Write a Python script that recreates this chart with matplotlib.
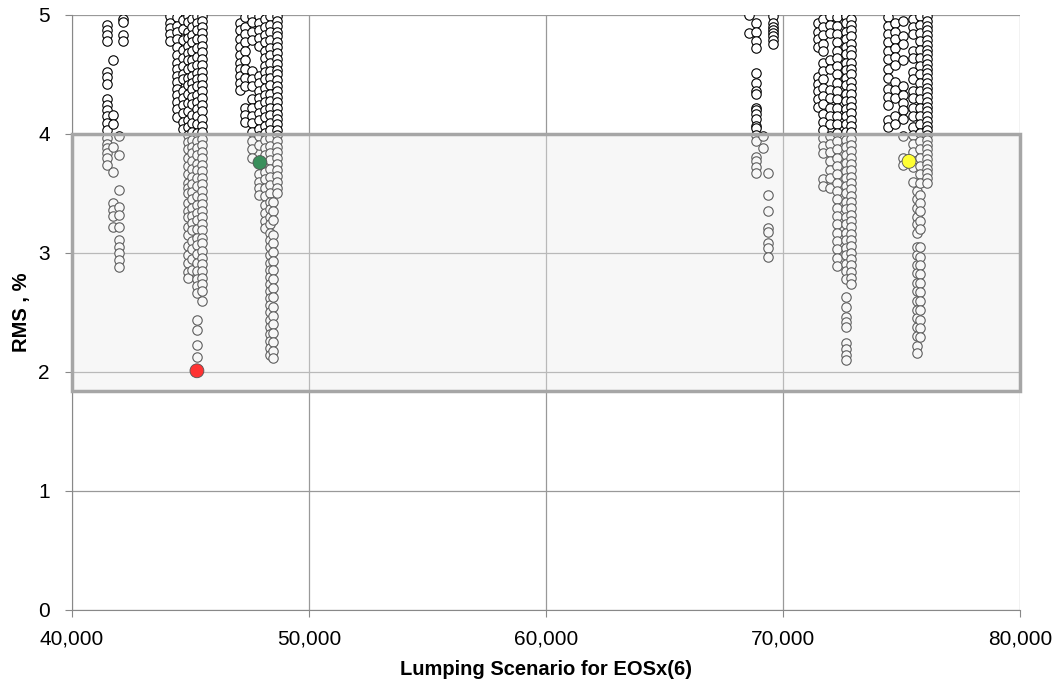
import matplotlib.pyplot as plt
import matplotlib.patches as patches
from matplotlib.ticker import FuncFormatter

plt.rcParams['font.family'] = ['Liberation Sans', 'DejaVu Sans']

# scenario clusters: column x positions and the RMS values stacked at each
clus_a_x = [41480, 41730, 41980, 42150]
clus_a_y = [
    [4.92, 4.87, 4.83, 4.78, 4.52, 4.48, 4.42, 4.29, 4.24, 4.20, 4.15, 4.09, 4.03, 3.97, 3.92, 3.88, 3.84, 3.80, 3.74],
    [4.62, 4.16, 4.08, 3.89, 3.68, 3.42, 3.36, 3.31, 3.22],
    [3.98, 3.82, 3.53, 3.39, 3.32, 3.22, 3.11, 3.05, 3.00, 2.94, 2.88],
    [4.97, 4.94, 4.83, 4.78],
]

clus_b_x = [44150, 44450, 44700, 44900, 45050, 45270, 45500]
clus_b_y = [
    [4.99, 4.93, 4.89, 4.84, 4.78],
    [4.98, 4.91, 4.86, 4.80, 4.73, 4.66, 4.60, 4.55, 4.49, 4.44, 4.38, 4.33, 4.27, 4.21, 4.14],
    [4.96, 4.88, 4.79, 4.71, 4.64, 4.57, 4.50, 4.46, 4.36, 4.30, 4.24, 4.18, 4.10, 4.04],
    [4.99, 4.94, 4.86, 4.81, 4.74, 4.68, 4.62, 4.55, 4.47, 4.41, 4.34, 4.26, 4.19, 4.12, 4.06, 3.99,
     3.93, 3.87, 3.80, 3.73, 3.66, 3.59, 3.55, 3.50, 3.42, 3.35, 3.30, 3.22, 3.15, 3.06, 2.98, 2.92, 2.84, 2.79],
    [4.97, 4.90, 4.83, 4.77, 4.70, 4.62, 4.56, 4.49, 4.43, 4.38, 4.31, 4.25, 4.16, 4.09, 4.02, 3.95,
     3.89, 3.84, 3.77, 3.71, 3.64, 3.58, 3.51, 3.45, 3.38, 3.31, 3.25, 3.19, 3.10, 3.03, 2.95, 2.86],
    [4.99, 4.93, 4.87, 4.80, 4.72, 4.65, 4.58, 4.51, 4.46, 4.40, 4.33, 4.27, 4.21, 4.15, 4.08, 4.01,
     3.94, 3.88, 3.82, 3.75, 3.70, 3.63, 3.56, 3.48, 3.40, 3.34, 3.28, 3.20, 3.13, 3.07, 2.99, 2.92,
     2.85, 2.78, 2.72, 2.66, 2.44, 2.35, 2.23, 2.13],
    [4.99, 4.95, 4.90, 4.85, 4.80, 4.74, 4.69, 4.63, 4.58, 4.52, 4.47, 4.41, 4.36, 4.30, 4.24, 4.19,
     4.13, 4.07, 4.02, 3.96, 3.91, 3.85, 3.80, 3.74, 3.69, 3.63, 3.58, 3.52, 3.46, 3.41, 3.35, 3.30,
     3.24, 3.19, 3.13, 3.08, 3.02, 2.96, 2.91, 2.85, 2.79, 2.74, 2.68, 2.60],
]

clus_c_x = [47090, 47300, 47600, 47900, 48150, 48350, 48480, 48650]
clus_c_y = [
    [4.93, 4.87, 4.80, 4.73, 4.66, 4.60, 4.55, 4.49, 4.43, 4.37],
    [4.98, 4.90, 4.84, 4.77, 4.70, 4.62, 4.55, 4.47, 4.40, 4.22, 4.16, 4.10],
    [4.99, 4.94, 4.86, 4.79, 4.53, 4.46, 4.40, 4.29, 4.22, 4.15, 4.09, 4.02, 3.94, 3.87, 3.80],
    [4.99, 4.93, 4.87, 4.81, 4.74, 4.49, 4.43, 4.36, 4.30, 4.24, 4.18, 4.12, 4.04, 3.98, 3.91, 3.66, 3.60, 3.55, 3.49],
    [4.97, 4.90, 4.83, 4.77, 4.70, 4.64, 4.57, 4.52, 4.46, 4.39, 4.33, 4.27, 4.20, 4.14, 4.07, 4.01,
     3.95, 3.88, 3.82, 3.75, 3.68, 3.62, 3.55, 3.48, 3.40, 3.34, 3.27, 3.21],
    [4.99, 4.92, 4.86, 4.79, 4.72, 4.66, 4.60, 4.53, 4.47, 4.41, 4.34, 4.28, 4.22, 4.16, 4.09, 4.03,
     3.97, 3.90, 3.84, 3.78, 3.71, 3.64, 3.57, 3.50, 3.43, 3.37, 3.30, 3.24, 3.17, 3.11, 3.05, 2.98,
     2.92, 2.86, 2.80, 2.74, 2.68, 2.62, 2.56, 2.50, 2.44, 2.38, 2.32, 2.26, 2.20, 2.14],
    [3.43, 3.35, 3.28, 3.15, 3.08, 3.01, 2.93, 2.86, 2.78, 2.71, 2.63, 2.55, 2.47, 2.40, 2.33, 2.25, 2.18, 2.12],
    [4.99, 4.95, 4.91, 4.86, 4.82, 4.77, 4.73, 4.68, 4.63, 4.59, 4.54, 4.50, 4.45, 4.40, 4.36, 4.31,
     4.27, 4.22, 4.17, 4.13, 4.08, 4.03, 3.99, 3.94, 3.89, 3.85, 3.80, 3.75, 3.70, 3.65, 3.60, 3.55, 3.50],
]

clus_d_x = [68560, 68860, 69160, 69370, 69580]
clus_d_y = [
    [5.00, 4.85],
    [4.93, 4.86, 4.78, 4.72, 4.51, 4.43, 4.36, 4.34, 4.22, 4.20, 4.17, 4.13, 4.07, 4.05, 3.99, 3.94, 3.81, 3.77, 3.72, 3.67],
    [3.98, 3.88],
    [3.67, 3.49, 3.35, 3.21, 3.18, 3.08, 3.04, 2.97],
    [4.99, 4.93, 4.90, 4.87, 4.85, 4.82, 4.79, 4.76],
]

clus_e_x = [71480, 71700, 72000, 72300, 72650, 72880]
clus_e_y = [
    [4.93, 4.86, 4.80, 4.73, 4.48, 4.42, 4.36, 4.29, 4.23],
    [4.97, 4.90, 4.83, 4.76, 4.70, 4.60, 4.53, 4.46, 4.39, 4.32, 4.25, 4.17, 4.10, 4.03, 3.97, 3.90, 3.84, 3.62, 3.56],
    [4.99, 4.92, 4.85, 4.62, 4.55, 4.37, 4.30, 4.22, 4.15, 4.08, 3.98, 3.92, 3.85, 3.77, 3.70, 3.63, 3.55],
    [4.98, 4.91, 4.84, 4.77, 4.70, 4.64, 4.57, 4.50, 4.43, 4.36, 4.29, 4.22, 4.15, 4.08, 4.01, 3.94,
     3.87, 3.80, 3.73, 3.66, 3.59, 3.52, 3.45, 3.38, 3.31, 3.24, 3.17, 3.10, 3.03, 2.96, 2.89],
    [4.99, 4.93, 4.86, 4.80, 4.73, 4.67, 4.60, 4.54, 4.47, 4.41, 4.34, 4.28, 4.21, 4.15, 4.08, 4.02,
     3.95, 3.89, 3.82, 3.76, 3.69, 3.63, 3.56, 3.50, 3.43, 3.37, 3.30, 3.24, 3.17, 3.11, 3.04, 2.98,
     2.91, 2.85, 2.78, 2.63, 2.55, 2.46, 2.42, 2.38, 2.24, 2.19, 2.14, 2.10],
    [4.97, 4.92, 4.87, 4.82, 4.76, 4.71, 4.66, 4.60, 4.55, 4.50, 4.44, 4.39, 4.34, 4.28, 4.23, 4.18,
     4.12, 4.07, 4.02, 3.96, 3.91, 3.86, 3.80, 3.75, 3.70, 3.64, 3.59, 3.54, 3.48, 3.43, 3.38, 3.32,
     3.27, 3.22, 3.16, 3.11, 3.06, 3.00, 2.95, 2.90, 2.84, 2.79, 2.74],
]

clus_f_x = [74430, 74730, 75060, 75490, 75650, 75800, 76080]
clus_f_y = [
    [4.98, 4.91, 4.84, 4.77, 4.70, 4.63, 4.55, 4.47, 4.38, 4.31, 4.24, 4.12, 4.06],
    [4.93, 4.86, 4.80, 4.72, 4.65, 4.58, 4.44, 4.37, 4.30, 4.15, 4.08],
    [4.95, 4.82, 4.76, 4.62, 4.40, 4.33, 4.26, 4.20, 4.13, 3.98, 3.80, 3.74],
    [4.97, 4.90, 4.84, 4.70, 4.64, 4.52, 4.46, 4.36, 4.30, 4.22, 4.15, 4.06, 3.99, 3.92, 3.85, 3.72, 3.60],
    [3.52, 3.45, 3.38, 3.30, 3.24, 3.17, 3.05, 2.98, 2.90, 2.83, 2.75, 2.68, 2.60, 2.52, 2.45, 2.38, 2.30, 2.22, 2.16],
    [4.99, 4.92, 4.85, 4.78, 4.71, 4.64, 4.57, 4.50, 4.43, 4.36, 4.29, 4.22, 4.15, 4.08, 4.01, 3.94,
     3.87, 3.80, 3.73, 3.66, 3.59, 3.49, 3.42, 3.35, 3.27, 3.20, 3.05, 2.97, 2.90, 2.82, 2.75, 2.67,
     2.60, 2.52, 2.44, 2.37, 2.29],
    [4.99, 4.95, 4.91, 4.87, 4.83, 4.79, 4.75, 4.71, 4.67, 4.63, 4.59, 4.55, 4.51, 4.47, 4.43, 4.39,
     4.35, 4.31, 4.27, 4.23, 4.19, 4.15, 4.11, 4.07, 4.03, 3.99, 3.95, 3.91, 3.87, 3.83, 3.79, 3.75,
     3.71, 3.67, 3.63, 3.59],
]

# highlighted scenarios
best_x = [45270, 47930, 75320]
best_y = [2.01, 3.76, 3.77]
best_colors = ['#ff3333', '#3a8f5c', '#ffff33']

# acceptance band
band_lo, band_hi = 1.84, 4.0

fig = plt.figure(figsize=(10.64, 6.88), dpi=100)
ax = fig.add_axes([0.0677, 0.1134, 0.8909, 0.8648])

xs, ys = [], []
for cx, cy in [(clus_a_x, clus_a_y), (clus_b_x, clus_b_y), (clus_c_x, clus_c_y),
               (clus_d_x, clus_d_y), (clus_e_x, clus_e_y), (clus_f_x, clus_f_y)]:
    for x0, col in zip(cx, cy):
        xs += [x0] * len(col)
        ys += col

ax.scatter(xs, ys, s=46, facecolor='white', edgecolor='black', linewidth=0.8, zorder=3)

# translucent band drawn over the points
ax.add_patch(patches.Rectangle((40000, band_lo), 40000, band_hi - band_lo,
                               facecolor='#ebebeb', alpha=0.4, edgecolor='none', zorder=5))
ax.add_patch(patches.Rectangle((40000, band_lo), 40000, band_hi - band_lo,
                               facecolor='none', edgecolor='#a6a6a6', linewidth=2.5,
                               zorder=6, clip_on=False))

ax.scatter(best_x, best_y, s=100, c=best_colors, edgecolor='#555555', linewidth=0.6, zorder=7)

ax.set_xlim(40000, 80000)
ax.set_ylim(0, 5)
ax.set_xticks([40000, 50000, 60000, 70000, 80000])
ax.set_yticks([0, 1, 2, 3, 4, 5])
ax.xaxis.set_major_formatter(FuncFormatter(lambda v, p: f'{int(v):,}'))
ax.grid(True, color='#999999', linewidth=0.9, zorder=0)
ax.set_axisbelow(True)
for s in ['top', 'right']:
    ax.spines[s].set_visible(False)
for s in ['left', 'bottom']:
    ax.spines[s].set_color('#888888')
ax.tick_params(axis='both', direction='out', length=5, color='#888888', labelsize=15)
ax.tick_params(axis='x', pad=9)
ax.tick_params(axis='y', pad=11)

ax.set_xlabel('Lumping Scenario for EOSx(6)', fontsize=14.5, fontweight='bold', labelpad=8)
ax.set_ylabel('RMS , %', fontsize=14.5, fontweight='bold', labelpad=5)

fig.savefig('out.png', dpi=100)
